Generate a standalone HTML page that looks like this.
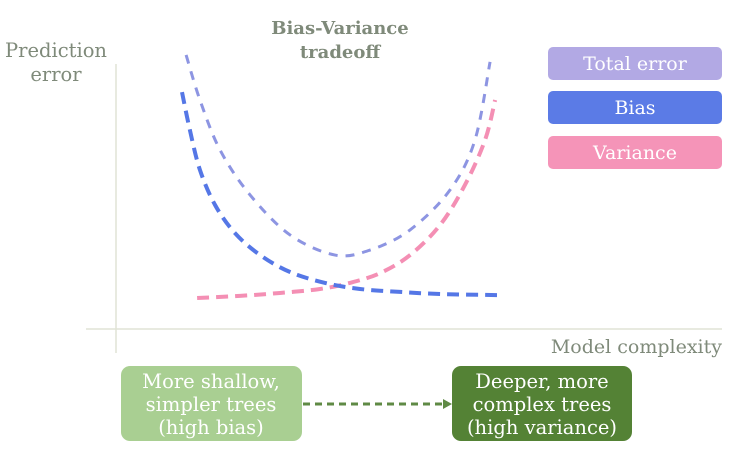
<!DOCTYPE html>
<html><head><meta charset="utf-8"><style>
html,body{margin:0;padding:0;background:#fff;}
body{width:732px;height:449px;overflow:hidden;position:relative;font-family:"DejaVu Serif","Liberation Serif",serif;}
svg text{font-family:"DejaVu Serif","Liberation Serif",serif;}
</style></head><body>
<svg id="chart" width="732" height="449" viewBox="0 0 732 449">
  <line x1="116" y1="64" x2="116" y2="353" stroke="#e0e3d6" stroke-width="1.5"/>
  <line x1="86" y1="329" x2="722" y2="329" stroke="#e0e3d6" stroke-width="1.5"/>
  <text x="340" y="34" text-anchor="middle" font-size="18" font-weight="bold" fill="#7f8a7a">Bias-Variance</text>
  <text x="340" y="58" text-anchor="middle" font-size="18" font-weight="bold" fill="#7f8a7a">tradeoff</text>
  <text x="56" y="57" text-anchor="middle" font-size="19.5" fill="#7f8a7a">Prediction</text>
  <text x="56" y="81" text-anchor="middle" font-size="19.5" fill="#7f8a7a">error</text>
  <text x="722" y="353" text-anchor="end" font-size="19" fill="#7f8a7a">Model complexity</text>
  <g id="series"></g>
  <g>
    <rect x="548" y="47" width="174" height="33" rx="5" fill="#b2a9e4"/>
    <text x="635" y="70" text-anchor="middle" font-size="19" fill="#fff">Total error</text>
    <rect x="548" y="91" width="174" height="33" rx="5" fill="#5b7be6"/>
    <text x="635" y="114" text-anchor="middle" font-size="19" fill="#fff">Bias</text>
    <rect x="548" y="136" width="174" height="33" rx="5" fill="#f594b8"/>
    <text x="635" y="159" text-anchor="middle" font-size="19" fill="#fff">Variance</text>
  </g>
  <rect x="121" y="366" width="181" height="75" rx="9" fill="#a9cf92"/>
  <text x="211" y="388" text-anchor="middle" font-size="19.5" fill="#fff">More shallow,</text>
  <text x="211" y="411" text-anchor="middle" font-size="19.5" fill="#fff">simpler trees</text>
  <text x="211" y="434" text-anchor="middle" font-size="19.5" fill="#fff">(high bias)</text>
  <rect x="452" y="366" width="180" height="75" rx="9" fill="#548235"/>
  <text x="542" y="388" text-anchor="middle" font-size="19.5" fill="#fff">Deeper, more</text>
  <text x="542" y="411" text-anchor="middle" font-size="19.5" fill="#fff">complex trees</text>
  <text x="542" y="434" text-anchor="middle" font-size="19.5" fill="#fff">(high variance)</text>
  <line x1="303" y1="404" x2="444" y2="404" stroke="#5f8a45" stroke-width="3" stroke-dasharray="7,5"/>
  <polygon points="452,404 443,399 443,409" fill="#5f8a45"/>
</svg>
<script>
const biasX = [0,0.25,0.57,1.05,1.68,2.48,3.43,4.54,5.65,6.92,8.19,10];
const biasY = [89.4,75.1,60.0,46.8,36.2,27.9,21.5,17.4,15.1,14.0,13.2,12.8];
const totalX = [0.13,0.57,1.21,2.16,3.43,4.86,5.97,7.24,8.51,9.3,9.78];
const totalY = [103.4,86.4,67.5,50.6,35.5,27.9,29.8,37.4,52.5,71.3,100.8];
const varX = [0.48,1.84,3.11,4.38,5.33,6.29,7.24,8.19,8.98,9.62,9.94];
const varY = [11.7,12.5,13.6,15.1,17.4,21.1,27.9,39.2,54.3,71.3,86.4];

function xs(c){return 182 + c*31.5;}
function ys(v){return 329 - v*2.65;}
function path(X,Y){
  const p = X.map((c,i)=>[xs(c),ys(Y[i])]);
  let d = 'M'+p[0][0]+','+p[0][1];
  for(let i=0;i<p.length-1;i++){
    const p0=p[i-1]||p[i], p1=p[i], p2=p[i+1], p3=p[i+2]||p2;
    const c1=[p1[0]+(p2[0]-p0[0])/6, p1[1]+(p2[1]-p0[1])/6];
    const c2=[p2[0]-(p3[0]-p1[0])/6, p2[1]-(p3[1]-p1[1])/6];
    d+=' C'+c1[0]+','+c1[1]+' '+c2[0]+','+c2[1]+' '+p2[0]+','+p2[1];
  }
  return d;
}
const g = document.getElementById('series');
function add(X,Y,color,w,dash,name){
  const el = document.createElementNS('http://www.w3.org/2000/svg','path');
  el.setAttribute('d', path(X,Y));
  el.setAttribute('fill','none');
  el.setAttribute('stroke',color);
  el.setAttribute('stroke-width',w);
  el.setAttribute('stroke-dasharray',dash);
  
  
  g.appendChild(el);
}
add(totalX,totalY,'#8d95e2',3,'9,8','total-error-line');
add(varX,varY,'#f48fb4',4,'12,7','variance-line');
add(biasX,biasY,'#5577e6',4,'12,7','bias-line');
</script>
</body></html>
